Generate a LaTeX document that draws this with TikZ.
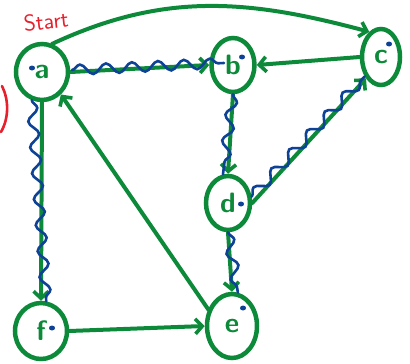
\documentclass[tikz,border=0pt]{standalone}
\usetikzlibrary{arrows.meta,shapes.geometric,decorations.pathmorphing}
\definecolor{gr}{RGB}{12,138,58}
\definecolor{bl}{RGB}{14,66,150}
\definecolor{rd}{RGB}{232,32,44}
\tikzset{
  vert/.style={ellipse,draw=gr,line width=4.5pt,inner sep=0pt,text=gr,font=\sffamily\bfseries\fontsize{28}{30}\selectfont},
  edge/.style={draw=gr,line width=4pt,line cap=round,-{Straight Barb[length=7pt,width=15pt,line width=3.6pt]}},
  wave/.style={draw=bl,line width=2.6pt,line cap=round,decorate,decoration={snake,amplitude=5pt,segment length=26pt}},
  dotmark/.style={fill=bl,ellipse,inner sep=0pt,minimum width=6pt,minimum height=5pt}
}
\begin{document}
\begin{tikzpicture}[x=1pt,y=-1pt]
\useasboundingbox (0,0) rectangle (410,364);
\node[vert,minimum width=52pt,minimum height=56pt] (a) at (42,72) {a};
\node[vert,minimum width=43pt,minimum height=54pt] (b) at (233,65) {b};
\node[vert,minimum width=38pt,minimum height=56pt] (c) at (381,57) {c};
\node[vert,minimum width=44pt,minimum height=54pt] (d) at (228,203) {d};
\node[vert,minimum width=50pt,minimum height=64pt] (e) at (232,326) {e};
\node[vert,minimum width=52pt,minimum height=56pt] (f) at (41,331) {f};
\node[text=rd,font=\sffamily\fontsize{23}{24}\selectfont,rotate=6] (start) at (46,21) {Start};
\draw[rd,line width=2.6pt,line cap=round] (2,86) .. controls (9,100) and (9,118) .. (1,132);
% edges
\draw[edge] (a.70) to[out=25,in=165] (c.115);
\draw[edge] (a.east) -- (b.west);
\draw[edge] (c.west) -- (b.east);
\draw[edge] (b.south) -- (d.north);
\draw[edge] (d.east) -- (c.235);
\draw[edge] (d.south) -- (e.north);
\draw[edge] (a.south) -- (f.north);
\draw[edge] (f.east) -- (e.west);
\draw[edge] (e.145) -- (a.310);
% traversal
\coordinate (a1) at (72,70);
\coordinate (b1) at (224,63);
\draw[wave] (a1) -- (b1);
\draw[wave] (b.south) -- (d.100);
\draw[wave] (d.15) -- (c.230);
\draw[wave] (d.south) -- (e.80);
\draw[wave] (a.250) -- (f.80);
% marks
\node[dotmark] (ma) at (32,68) {};
\node[dotmark] (mb) at (242,57) {};
\node[dotmark] (mc) at (389,44) {};
\node[dotmark] (md) at (241,204) {};
\node[dotmark] (me) at (243,308) {};
\node[dotmark] (mf) at (52,328) {};
\end{tikzpicture}
\end{document}
